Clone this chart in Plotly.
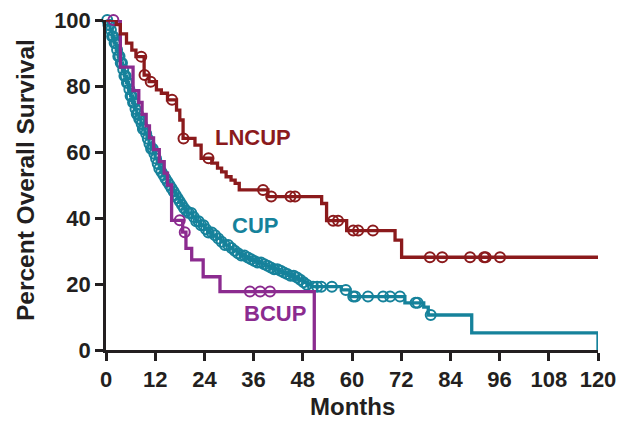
import numpy as np
import plotly.graph_objects as go

# ---------------- data ----------------
lncup_t = [0, 2.5, 3.5, 5, 6.3, 7.3, 9.3, 10.5, 12.3, 13.5, 15, 17.2, 18, 18.8, 21.7, 23.2,
           25.8, 27.2, 28.2, 29.3, 30.5, 31.5, 32.5, 39.5, 52.6, 53.8, 58.7, 70.5, 72.1, 120]
lncup_s = [100, 98.6, 95.8, 93.0, 90.9, 88.9, 83.3, 81.3, 78.8, 77.8, 75.8, 72.7, 69.7, 64.1, 62.1, 58.1,
           56.6, 55.1, 54.0, 52.5, 51.5, 50.5, 48.5, 46.5, 44.4, 39.2, 36.2, 33.3, 28.1, 28.1]
lncup_cens = [8.6, 9.4, 10.9, 16.1, 18.9, 25.0, 38.3, 40.3, 45.0, 46.1, 55.4, 56.6, 60.3, 61.5,
              65.1, 79.0, 82.0, 88.8, 92.2, 92.6, 96.1]

cup_t = [0, 0.5, 1, 1.5, 2, 2.5, 3, 3.5, 4, 4.5, 5, 5.5, 6, 6.5, 7, 7.5, 8, 8.5, 9, 9.5, 10,
         10.5, 11, 11.5, 12, 12.5, 13, 13.5, 14, 14.5, 15, 15.5, 16, 16.5, 17, 17.5, 18, 18.5,
         19, 19.5, 20, 21, 22, 23, 24, 25, 26, 27, 28, 29, 30, 31, 32, 33, 34, 35, 36, 37, 38,
         39, 40, 41, 42, 43, 44, 45, 46, 47, 48, 49, 50, 57.4, 59.5, 72.9, 77.5, 78.6, 89.2, 120, 120]
cup_s = [100, 98.5, 97, 95, 93, 91, 89, 87, 85, 83, 81, 79, 77, 75, 73, 71.5, 70, 68.5, 67, 65.5, 64,
         62.5, 61, 59.5, 58, 56.5, 55, 54, 53, 52, 51, 50, 49, 48, 47, 46, 45, 44,
         43, 42.2, 41.5, 40.3, 39, 37.8, 36.6, 35.6, 34.8, 33.8, 32.8, 31.8, 30.9, 30.1, 29.3, 28.6, 28.0, 27.5, 27.0, 26.5, 26,
         25.5, 25, 24.5, 24, 23.5, 23, 22.5, 22, 21.3, 20.5, 19.8, 19.2, 18.2, 16.2, 14.3, 13.0, 10.6, 5.2, 5.2, 0]
cup_cens = [0.3, 0.6, 0.9, 1.2, 1.5, 1.8, 2.1, 2.4, 2.7, 3.0, 3.3, 3.6, 3.9, 4.2, 4.5, 4.8, 5.1, 5.4,
            5.7, 6.0, 6.3, 6.6, 6.9, 7.2, 7.5, 7.8, 8.1, 8.4, 8.7, 9.0, 9.4, 9.8, 10.2, 10.6, 11.0,
            11.4, 11.8, 12.2, 12.6, 13.0, 13.5, 14.0, 14.5, 15.0, 15.5, 16.0, 16.5, 17.0, 17.5, 18.0,
            18.5, 19.0, 19.6, 20.2, 20.8, 21.4, 22.0, 22.6, 23.2, 23.8, 24.4, 25.0, 25.8, 26.6, 27.4,
            28.2, 29.0, 29.8, 30.6, 31.4, 32.2, 33.0, 33.8, 34.6, 35.4, 36.2, 37.0, 37.8, 38.6, 39.4,
            40.2, 41.0, 41.8, 42.6, 43.4, 44.2, 45.0, 45.8, 46.6, 47.4, 48.2, 49.0, 50.5, 51.5, 52.5,
            55.1, 58.5, 60.3, 60.8, 63.9, 67.6, 69.3, 71.7, 75.5, 76.0, 79.2]

bcup_t = [0, 3.5, 6.6, 8.0, 8.8, 9.8, 10.6, 11.6, 13.0, 14.2, 15.0, 16.0, 18.7, 19.5, 20.9, 23.7, 27.8, 50.8, 50.8]
bcup_s = [100, 85.7, 78.6, 75.0, 71.4, 67.9, 64.3, 60.7, 57.1, 53.6, 50.0, 39.3, 35.7, 30.8, 27.3, 22.2, 17.7, 17.7, 0]
bcup_cens = [1.8, 18.0, 19.2, 35.1, 37.6, 40.0]

x_ticks = [0, 12, 24, 36, 48, 60, 72, 84, 96, 108, 120]
y_ticks = [0, 20, 40, 60, 80, 100]

RED = "#8b1a1c"
TEAL = "#16829b"
PURPLE = "#8b2b8f"
INK = "#231f20"
FONT = "Liberation Sans, Arial, sans-serif"


def at(ts, ss, times):
    ts = np.asarray(ts, float)
    ss = np.asarray(ss, float)
    idx = np.searchsorted(ts, np.asarray(times, float), side="right") - 1
    return ss[idx]


fig = go.Figure()
for t, s, c, col, name in [
    (cup_t, cup_s, cup_cens, TEAL, "CUP"),
    (bcup_t, bcup_s, bcup_cens, PURPLE, "BCUP"),
    (lncup_t, lncup_s, lncup_cens, RED, "LNCUP"),
]:
    fig.add_trace(go.Scatter(x=t, y=s, mode="lines", line=dict(color=col, width=3.3, shape="hv"),
                             cliponaxis=False, showlegend=False, name=name))
    fig.add_trace(go.Scatter(x=c, y=at(t, s, c), mode="markers",
                             marker=dict(symbol="circle-open", size=10, color=col, line=dict(width=2, color=col)),
                             cliponaxis=False, showlegend=False, name=name))

fig.add_annotation(x=35.9, y=64.5, text="<b>LNCUP</b>", showarrow=False, font=dict(color=RED, size=22, family=FONT))
fig.add_annotation(x=36.3, y=37.6, text="<b>CUP</b>", showarrow=False, font=dict(color=TEAL, size=22, family=FONT))
fig.add_annotation(x=41.2, y=11.2, text="<b>BCUP</b>", showarrow=False, font=dict(color=PURPLE, size=22, family=FONT))

# axis titles
fig.add_annotation(xref="paper", yref="paper", x=0.5, y=-0.1727, text="<b>Months</b>", showarrow=False,
                   xanchor="center", yanchor="middle", font=dict(family=FONT, size=24, color=INK))
fig.add_annotation(xref="paper", yref="paper", x=-0.1646, y=0.515, text="<b>Percent Overall Survival</b>",
                   showarrow=False, textangle=-90, xanchor="center", yanchor="middle",
                   font=dict(family=FONT, size=24.5, color=INK))

axis_common = dict(showline=True, linewidth=2.5, linecolor=INK, ticks="outside", ticklen=8, tickwidth=2.5,
                   tickcolor=INK, showgrid=False, zeroline=False, automargin=False,
                   tickfont=dict(family=FONT, size=22, color=INK))
fig.update_xaxes(range=[0, 120], tickvals=x_ticks, ticktext=[f"<b>{v}</b>" for v in x_ticks], **axis_common)
fig.update_yaxes(range=[0, 100], tickvals=y_ticks, ticktext=[f"<b>{v}</b>" for v in y_ticks], **axis_common)
fig.update_layout(width=621, height=422, margin=dict(l=106, r=23, t=20, b=72, autoexpand=False),
                  plot_bgcolor="white", paper_bgcolor="white")
fig.write_html("out.html", config={"displayModeBar": False},
               post_script="document.body.style.margin='0px';")
